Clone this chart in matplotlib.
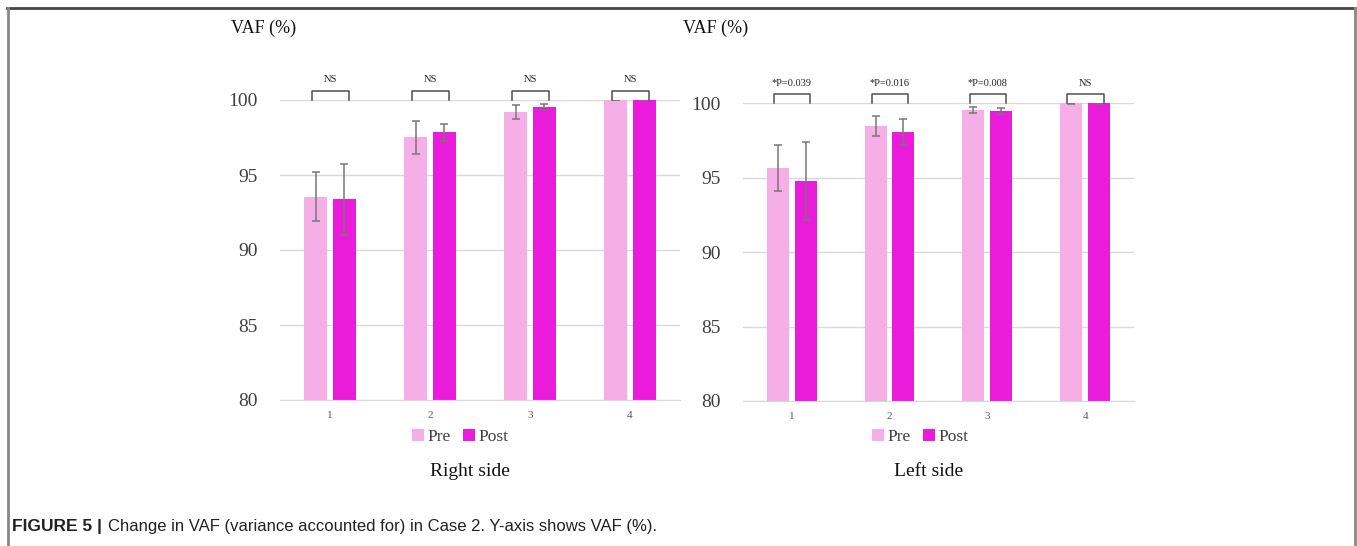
import numpy as np
import matplotlib.pyplot as plt
from matplotlib.lines import Line2D

# データ
groups = ["1", "2", "3", "4"]
right_pre = [93.55, 97.51, 99.22, 100.0]
right_pre_err = [1.63, 1.09, 0.47, 0.02]
right_post = [93.38, 97.85, 99.53, 100.0]
right_post_err = [2.35, 0.55, 0.20, 0.02]
right_sig = ["NS", "NS", "NS", "NS"]

left_pre = [95.67, 98.47, 99.55, 100.0]
left_pre_err = [1.55, 0.67, 0.20, 0.02]
left_post = [94.79, 98.09, 99.48, 100.0]
left_post_err = [2.60, 0.87, 0.18, 0.02]
left_sig = ["*P=0.039", "*P=0.016", "*P=0.008", "NS"]

yticks = [80, 85, 90, 95, 100]

c_pre = "#f6aee6"
c_post = "#ea1bdb"
serif = ["Liberation Serif", "DejaVu Serif"]

W, H = 1357, 546
fig = plt.figure(figsize=(W / 100, H / 100), dpi=100)


def fx(px):
    return px / W


def fy(py):
    return 1 - py / H


def panel(rect, pre, pre_err, post, post_err, sig, title, vaf_x, leg_x):
    ax = fig.add_axes(rect)
    x = np.arange(1, len(groups) + 1)
    w = 0.225
    off = 0.143
    ekw = dict(ecolor="#767676", elinewidth=1.1, capsize=3, capthick=1.1)
    ax.bar(x - off, pre, w, color=c_pre, yerr=pre_err, error_kw=ekw,
           label="Pre", zorder=2)
    ax.bar(x + off, post, w, color=c_post, yerr=post_err, error_kw=ekw,
           label="Post", zorder=2)
    ax.set_xlim(0.5, len(groups) + 0.5)
    ax.set_ylim(80, 100)
    ax.set_yticks(yticks)
    ax.set_yticklabels([str(t) for t in yticks], fontfamily=serif,
                       fontsize=14, color="#404040")
    ax.set_xticks(x)
    ax.set_xticklabels(groups, fontfamily=serif, fontsize=8, color="#595959")
    ax.tick_params(axis="y", length=0, pad=16)
    ax.tick_params(axis="x", length=0, pad=8)
    ax.grid(axis="y", color="#d9d9d9", lw=1, zorder=0)
    for s in ["top", "right", "left"]:
        ax.spines[s].set_visible(False)
    ax.spines["bottom"].set_color("#d9d9d9")

    # 有意差の括弧
    for xi, s in zip(x, sig):
        xl, xr = xi - 0.18, xi + 0.19
        ax.plot([xl, xl, xr, xr], [100.0, 100.6, 100.6, 100.0],
                color="#505050", lw=1.1, clip_on=False, zorder=3)
        ax.text(xi, 101.05, s, ha="center", va="bottom", fontsize=7.5,
                fontfamily=serif, color="#222222")

    leg = ax.legend(loc="center", bbox_to_anchor=(leg_x, fy(437)),
                    bbox_transform=fig.transFigure, ncol=2, frameon=False,
                    prop={"family": serif, "size": 12.5}, handlelength=0.7,
                    handleheight=0.7, handletextpad=0.2, columnspacing=0.7)
    for t in leg.get_texts():
        t.set_color("#404040")
    cx = rect[0] + rect[2] / 2
    fig.text(cx - fx(10), fy(471), title, ha="center", va="center",
             fontfamily=serif, fontsize=14, color="#111111")
    fig.text(fx(vaf_x), fy(28), "VAF (%)", ha="left", va="center",
             fontfamily=serif, fontsize=13, color="#111111")
    return ax


panel([fx(280), fy(400), fx(400), 300 / H], right_pre, right_pre_err,
      right_post, right_post_err, right_sig, "Right side", 231, fx(460))
panel([fx(742.8), fy(400.9), fx(391.2), 297.6 / H], left_pre, left_pre_err,
      left_post, left_post_err, left_sig, "Left side", 683, fx(920))

# 枠線
fig.add_artist(Line2D([fx(7), fx(1355)], [fy(8), fy(8)], color="#444444", lw=2))
fig.add_artist(Line2D([fx(7.5), fx(7.5)], [fy(8), 0], color="#888888", lw=2))
fig.add_artist(Line2D([fx(1354.5), fx(1354.5)], [fy(8), 0], color="#888888", lw=2))

# キャプション
fig.text(fx(12), fy(527), "FIGURE 5 |", ha="left", va="center",
         fontfamily="Liberation Sans", fontweight="bold", fontsize=12.5,
         color="#222222")
fig.text(fx(108), fy(527),
         "Change in VAF (variance accounted for) in Case 2. Y-axis shows VAF (%).",
         ha="left", va="center", fontfamily="Liberation Sans", fontsize=12,
         color="#222222")

fig.savefig("out.png", dpi=100)
